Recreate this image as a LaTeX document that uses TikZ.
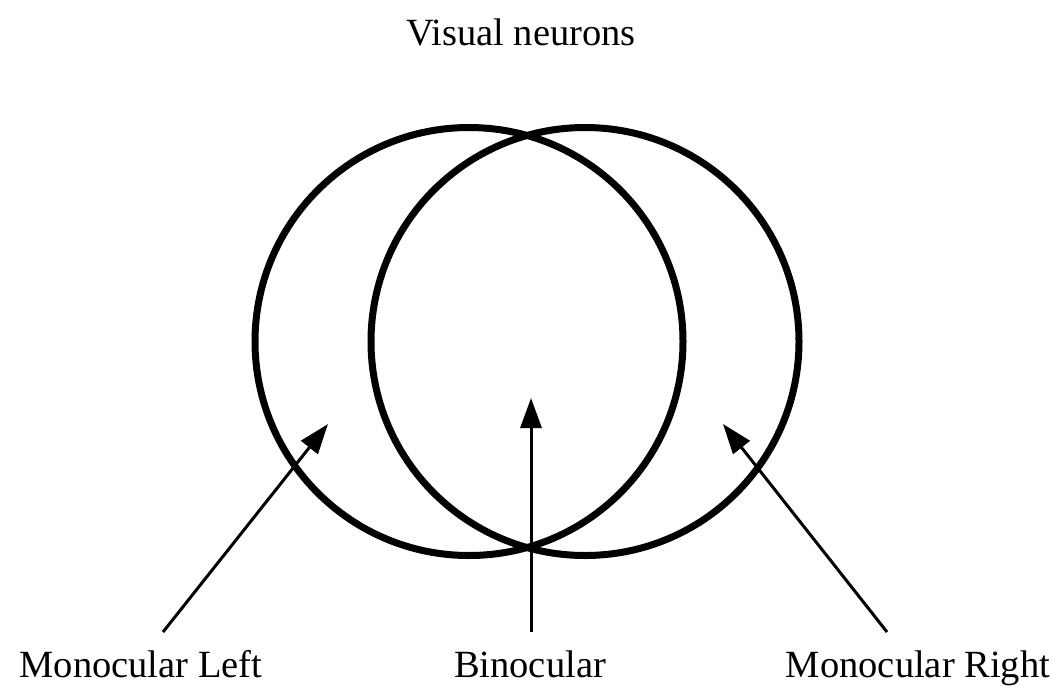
\documentclass[tikz,border=0pt]{standalone}
\usepackage{fontspec}
\setmainfont{Liberation Serif}
\usetikzlibrary{arrows.meta}
\begin{document}
\begin{tikzpicture}[x=1pt,y=-1pt,
  ring/.style={line width=7pt},
  arr/.style={line width=3pt,-{Triangle[length=30pt,width=21pt]}},
  lbl/.style={font=\fontsize{38.5}{44}\selectfont,anchor=base,inner sep=0pt}]
\useasboundingbox (0,0) rectangle (1056,686);
\draw[ring] (469,341.5) circle[radius=214];
\draw[ring] (585,341.5) circle[radius=214];
\node[lbl] (title) at (521,45) {Visual neurons};
\node[lbl] (ml) at (141,677) {Monocular Left};
\node[lbl] (bi) at (530,677) {Binocular};
\node[lbl] (mr) at (918,677) {Monocular Right};
\coordinate (s1) at (163,632);
\coordinate (t1) at (328,424);
\coordinate (s2) at (531,632);
\coordinate (t2) at (531,398);
\coordinate (s3) at (887,632);
\coordinate (t3) at (723,424);
\draw[arr] (s1) -- (t1);
\draw[arr] (s2) -- (t2);
\draw[arr] (s3) -- (t3);
\end{tikzpicture}
\end{document}
